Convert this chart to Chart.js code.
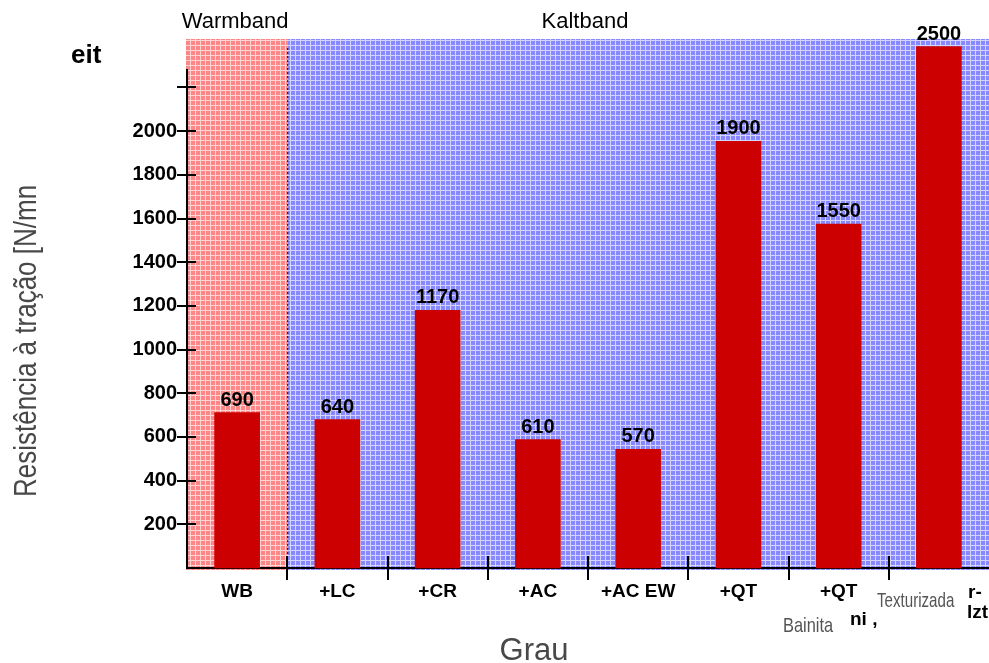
<!DOCTYPE html>
<html>
<head>
<meta charset="utf-8">
<script src="https://cdn.jsdelivr.net/npm/chart.js@4"></script>
<style>
  html, body { margin: 0; padding: 0; background: #fff; }
  canvas { display: block; }
</style>
</head>
<body>
<canvas id="chart" width="989" height="663"></canvas>
<script>
// categories along the x axis (the last one is cut off in the source picture)
const categories = ['WB', '+LC', '+CR', '+AC', '+AC EW', '+QT', '+QT', ['r-', 'lzt']];
// bar heights as read against the y axis
const barValues = [711, 679, 1180, 588, 543, 1954, 1575, 2387];
// numbers printed above the bars
const valueLabels = ['690', '640', '1170', '610', '570', '1900', '1550', '2500'];
const yTicks = [0, 200, 400, 600, 800, 1000, 1200, 1400, 1600, 1800, 2000, 2200];
const yTickLabels = ['', '200', '400', '600', '800', '1000', '1200', '1400', '1600', '1800', '2000', ''];
const groupLabels = ['Warmband', 'Kaltband'];

const FONT = "'Liberation Sans', Arial, sans-serif";

function makePattern(ctx, base, line) {
  const c = document.createElement('canvas');
  c.width = 5; c.height = 5;
  const g = c.getContext('2d');
  g.fillStyle = base; g.fillRect(0, 0, 5, 5);
  g.fillStyle = line; g.fillRect(0, 0, 5, 1); g.fillRect(0, 0, 1, 5);
  return ctx.createPattern(c, 'repeat');
}

const decor = {
  id: 'decor',
  beforeDraw(chart) {
    const {ctx, chartArea: a, scales: {x}} = chart;
    const split = (x.getPixelForValue(0) + x.getPixelForValue(1)) / 2;
    const top = a.top - 31;
    ctx.save();
    ctx.fillStyle = makePattern(ctx, '#ff8686', '#ffd4d4');
    ctx.fillRect(a.left - 1, top, split - a.left + 1, a.bottom - top + 2);
    ctx.fillStyle = makePattern(ctx, '#8888ff', '#d4d4ff');
    ctx.fillRect(split, top, chart.width - split, a.bottom - top + 2);
    // dotted border between the two zones
    ctx.strokeStyle = '#000';
    ctx.lineWidth = 1;
    ctx.setLineDash([2, 2]);
    ctx.beginPath();
    ctx.moveTo(split + 0.5, top + 9);
    ctx.lineTo(split + 0.5, a.bottom - 13);
    ctx.stroke();
    ctx.restore();
  },
  afterDatasetsDraw(chart) {
    const {ctx} = chart;
    const meta = chart.getDatasetMeta(0);
    ctx.save();
    ctx.fillStyle = '#000';
    ctx.font = 'bold 20px ' + FONT;
    ctx.textAlign = 'center';
    ctx.textBaseline = 'alphabetic';
    meta.data.forEach((bar, i) => {
      ctx.fillText(valueLabels[i], bar.x, bar.y - 7);
    });
    ctx.restore();
  },
  afterDraw(chart) {
    const {ctx, chartArea: a, scales: {x, y}} = chart;
    ctx.save();
    ctx.strokeStyle = '#000';
    ctx.lineWidth = 2;
    // y tick marks crossing the axis
    yTicks.forEach(v => {
      if (v === 0) return;
      const py = Math.round(y.getPixelForValue(v));
      ctx.beginPath();
      ctx.moveTo(a.left - 10, py);
      ctx.lineTo(a.left + 9, py);
      ctx.stroke();
    });
    // x tick marks at the category borders
    for (let i = 1; i < categories.length; i++) {
      const px = Math.round((x.getPixelForValue(i - 1) + x.getPixelForValue(i)) / 2);
      ctx.beginPath();
      ctx.moveTo(px, a.bottom - 12);
      ctx.lineTo(px, a.bottom + 12);
      ctx.stroke();
    }

    ctx.fillStyle = '#000';
    ctx.textBaseline = 'alphabetic';
    // zone labels
    const split = (x.getPixelForValue(0) + x.getPixelForValue(1)) / 2;
    ctx.font = '22px ' + FONT;
    ctx.textAlign = 'center';
    ctx.fillText(groupLabels[0], (a.left + split) / 2 - 2, 28);
    ctx.fillText(groupLabels[1], (x.getPixelForValue(3) + x.getPixelForValue(4)) / 2 - 3, 28);

    // cut-off bits of text from the source
    ctx.font = 'bold 26px ' + FONT;
    ctx.textAlign = 'left';
    ctx.fillText('eit', 71, 63);
    ctx.font = 'bold 19px ' + FONT;
    ctx.fillText('ni ,', 850, 625);
    const last = categories[categories.length - 1];
    ctx.fillText(last[0], 968, 598);
    ctx.fillText(last[1], 967, 618);

    // grey overlay labels
    ctx.fillStyle = '#555';
    ctx.font = '21px ' + FONT;
    ctx.save();
    ctx.translate(877, 607);
    ctx.scale(0.72, 1);
    ctx.fillText('Texturizada', 0, 0);
    ctx.restore();
    ctx.save();
    ctx.translate(783, 632);
    ctx.scale(0.78, 1);
    ctx.fillText('Bainita', 0, 0);
    ctx.restore();

    // axis titles
    ctx.fillStyle = '#484848';
    ctx.save();
    ctx.translate(36, 497);
    ctx.rotate(-Math.PI / 2);
    ctx.scale(1, 1.2);
    ctx.font = '26px ' + FONT;
    ctx.fillText('Resistência à tração [N/mn', 0, 0);
    ctx.restore();
    ctx.font = '31px ' + FONT;
    ctx.textAlign = 'center';
    ctx.fillText('Grau', 534, 660);
    ctx.restore();
  }
};

new Chart(document.getElementById('chart').getContext('2d'), {
  type: 'bar',
  data: {
    labels: categories,
    datasets: [{
      data: barValues,
      backgroundColor: '#cc0000',
      barThickness: 45,
      clip: false
    }]
  },
  options: {
    responsive: false,
    animation: false,
    devicePixelRatio: 1,
    layout: { padding: { top: 70, right: 0, left: 0, bottom: 0 } },
    plugins: { legend: { display: false }, tooltip: { enabled: false } },
    scales: {
      x: {
        grid: { display: false, drawTicks: false },
        border: { display: true, color: '#000', width: 2 },
        ticks: {
          color: '#000',
          font: { family: FONT, size: 19, weight: 'bold' },
          padding: 12,
          maxRotation: 0,
          autoSkip: false,
          callback: (v, i) => (i === categories.length - 1 ? '' : categories[i])
        },
        afterFit: s => { s.height = 95; }
      },
      y: {
        min: 0,
        max: 2280,
        afterBuildTicks: s => { s.ticks = yTicks.map(v => ({ value: v })); },
        grid: { display: false, drawTicks: false },
        border: { display: true, color: '#000', width: 2 },
        ticks: {
          color: '#000',
          font: { family: FONT, size: 20, weight: 'bold' },
          padding: 10,
          callback: (v, i) => yTickLabels[i]
        },
        afterFit: s => { s.width = 187; }
      }
    }
  },
  plugins: [decor]
});
</script>
</body>
</html>
